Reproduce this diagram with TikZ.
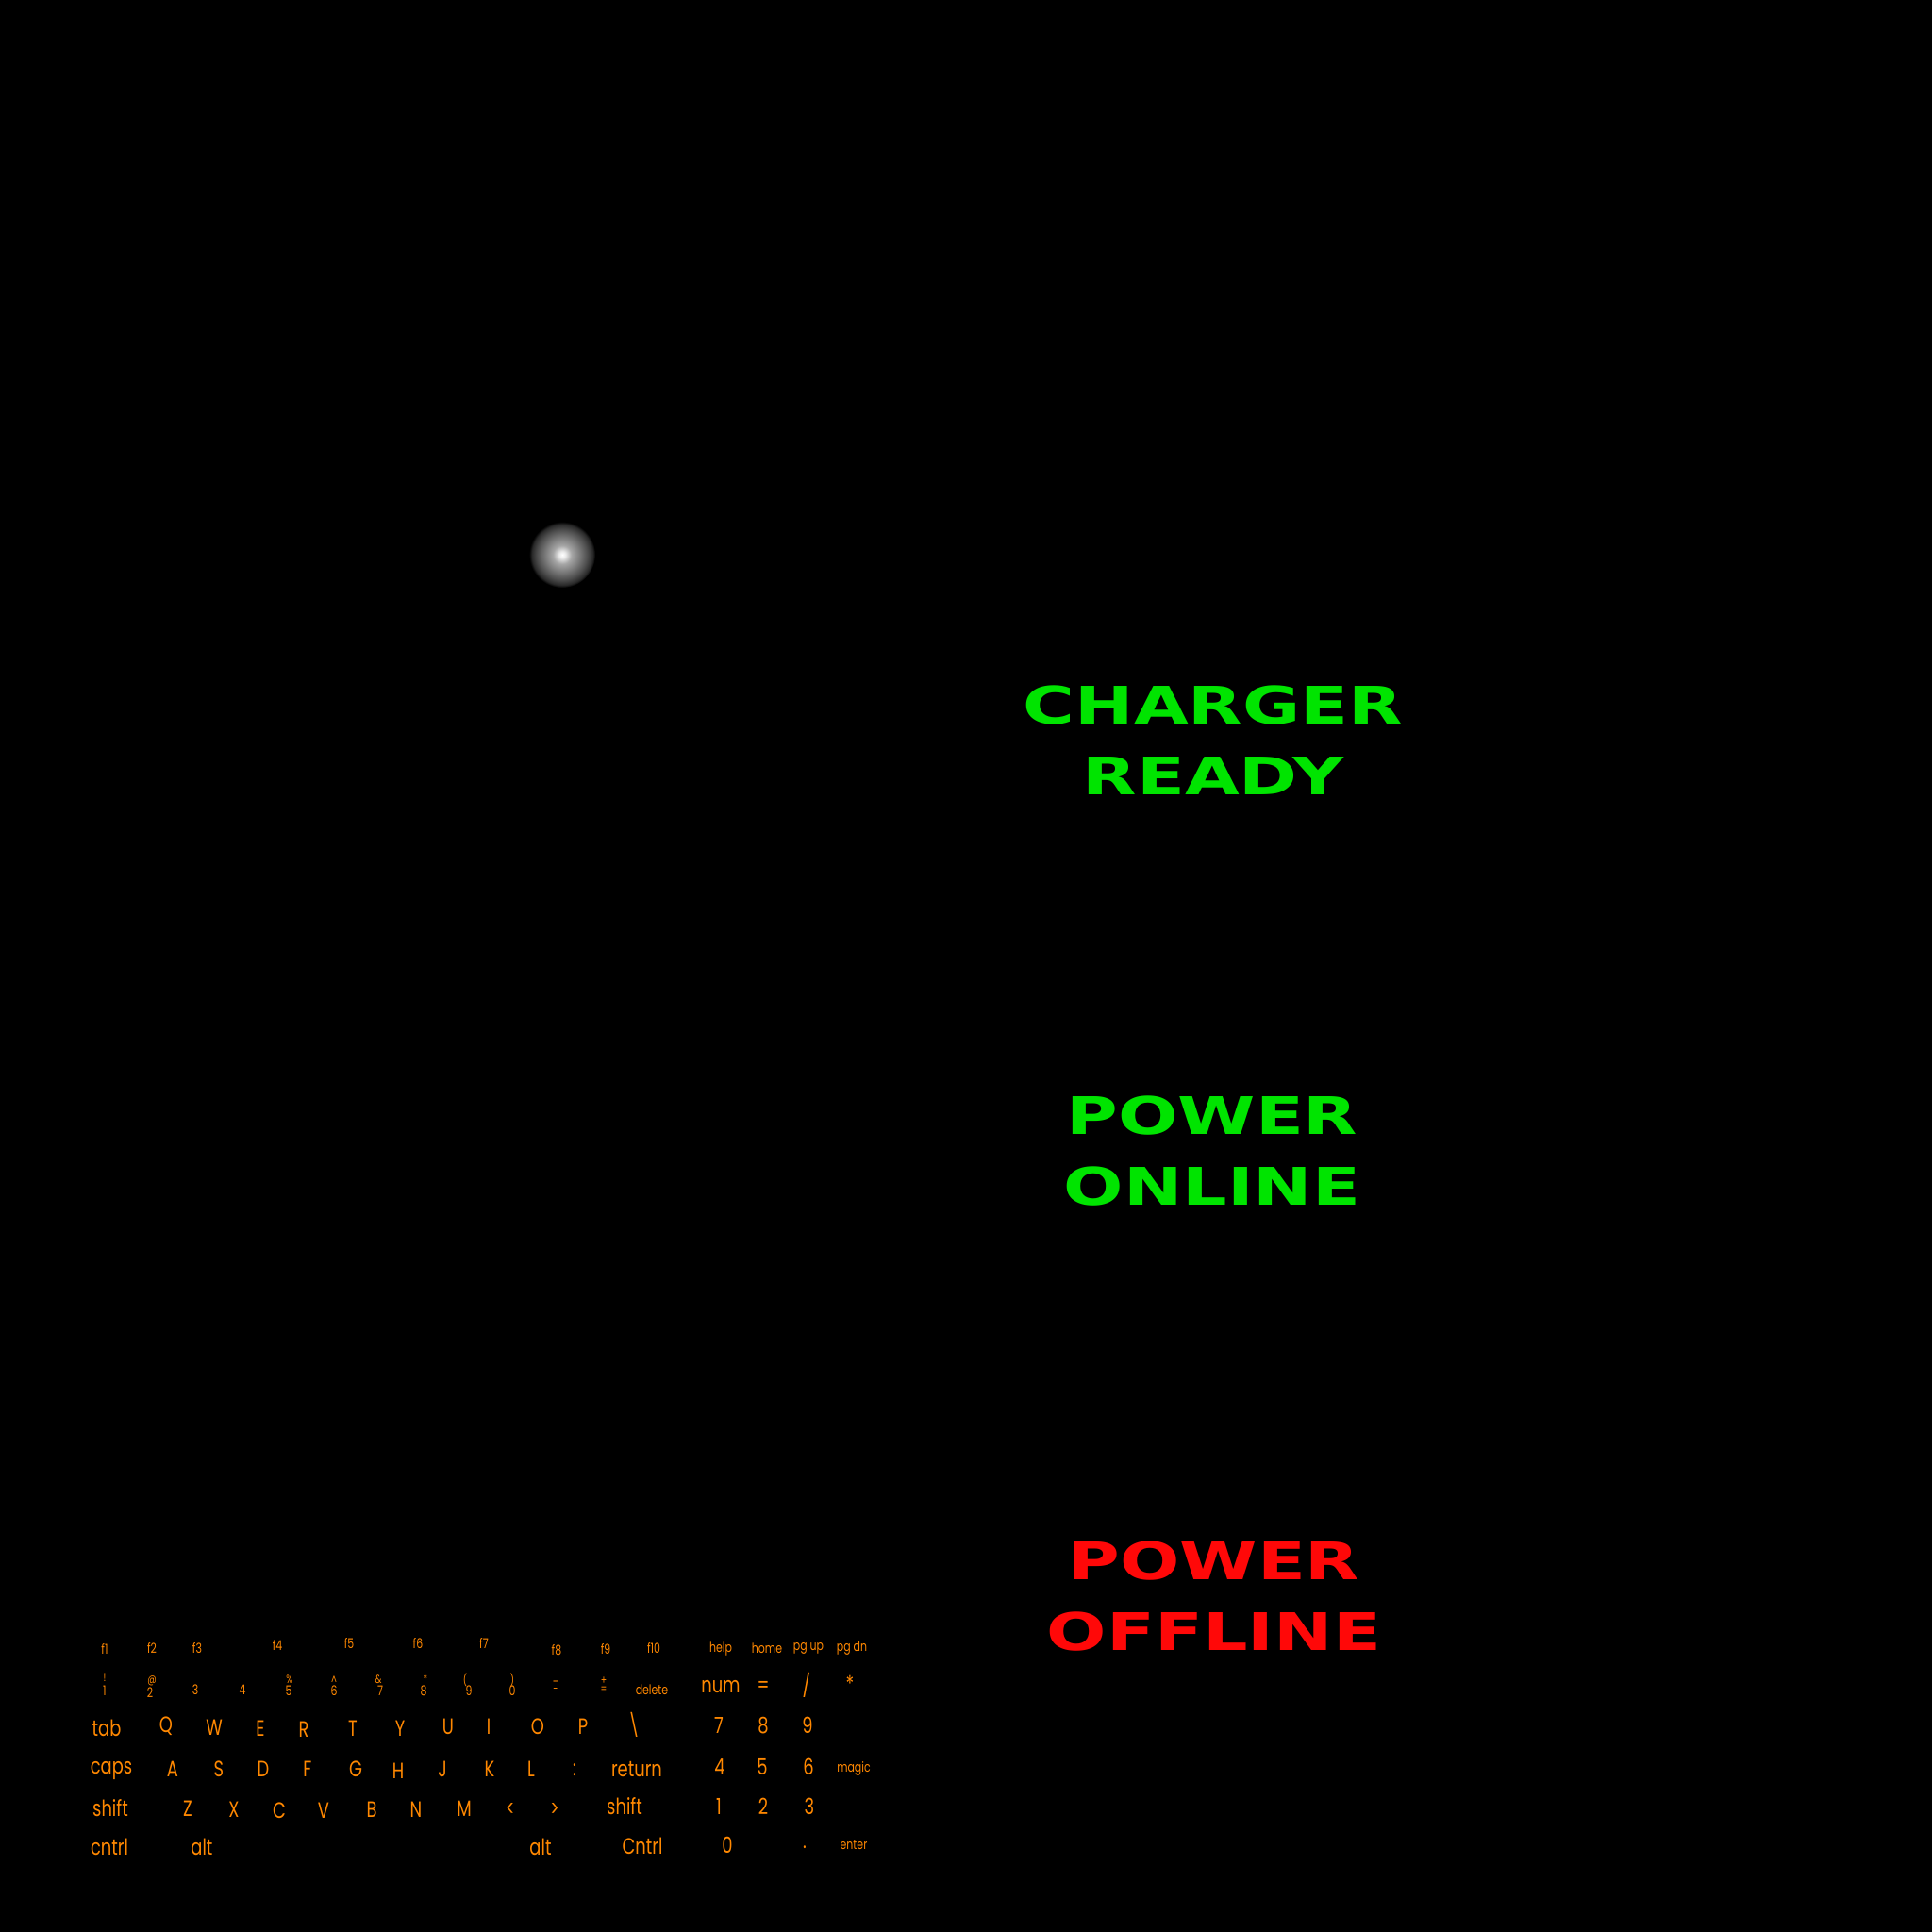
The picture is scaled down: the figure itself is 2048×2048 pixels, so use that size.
\documentclass[tikz,border=0pt]{standalone}
\usepackage{fontspec}
\newfontfamily\hudfont{DejaVu Sans}[FakeStretch=1.36, BoldFeatures={FakeStretch=1.36}]
\newfontfamily\keyfont{Poppins}[FakeStretch=0.76]
\definecolor{hudgreen}{RGB}{0,228,0}
\definecolor{hudred}{RGB}{255,8,8}
\definecolor{keyorange}{RGB}{255,136,0}
\pgfdeclareradialshading{glowdot}{\pgfpoint{0bp}{0bp}}{color(0bp)=(white); color(2.5bp)=(white!92!black); color(7bp)=(black!35); color(13bp)=(black!52); color(19bp)=(black!70); color(23bp)=(black!84); color(25bp)=(black); color(50bp)=(black)}
\begin{document}
\begin{tikzpicture}[
            x=0.01cm, y=-0.01cm,
            hudtext/.style={
                align=center, inner sep=0pt, font=\hudfont\bfseries\fontsize{15.6}{21.3}\selectfont
            },
            keybig/.style={
                text=keyorange, inner sep=0pt, font=\keyfont\fontsize{6.7}{7}\selectfont
            },
            keysmall/.style={
                text=keyorange, inner sep=0pt, font=\keyfont\fontsize{4.1}{5}\selectfont
            },
            keytiny/.style={
                text=keyorange, inner sep=0pt, font=\keyfont\fontsize{3.5}{4}\selectfont
            }
        ]
        \fill[black] (0,0) rectangle (2048,2048);
        \shade[shading=glowdot] (596,588) circle [radius=0.35cm];

        % status
        \node[hudtext, text=hudgreen] (charger) at (1286,785) {CHARGER\\READY};
        \node[hudtext, text=hudgreen] (online) at (1285,1220) {POWER\\ONLINE};
        \node[hudtext, text=hudred] (offline) at (1287,1692) {POWER\\OFFLINE};

        % function row
        \node[keysmall] (f1) at (111,1748) {f1};
        \node[keysmall] (f2) at (161,1747) {f2};
        \node[keysmall] (f3) at (209,1747) {f3};
        \node[keysmall] (f4) at (294,1744) {f4};
        \node[keysmall] (f5) at (370,1742) {f5};
        \node[keysmall] (f6) at (443,1742) {f6};
        \node[keysmall] (f7) at (513,1742) {f7};
        \node[keysmall] (f8) at (590,1749) {f8};
        \node[keysmall] (f9) at (642,1748) {f9};
        \node[keysmall] (f10) at (693,1747) {f10};
        \node[keysmall] (help) at (764,1748) {help};
        \node[keysmall] (home) at (813,1747) {home};
        \node[keysmall] (pgup) at (857,1747) {pg up};
        \node[keysmall] (pgdn) at (903,1747) {pg dn};

        % number row
        \node[keytiny] (s1) at (111,1778) {!};
        \node[keysmall] (n1) at (111,1792) {1};
        \node[keytiny] (s2) at (161,1782) {@};
        \node[keysmall] (n2) at (159,1794) {2};
        \node[keysmall] (n3) at (207,1791) {3};
        \node[keysmall] (n4) at (257,1791) {4};
        \node[keytiny] (s5) at (307,1780) {\%};
        \node[keysmall] (n5) at (306,1792) {5};
        \node[keytiny] (s6) at (354,1781) {\textasciicircum};
        \node[keysmall] (n6) at (354,1792) {6};
        \node[keytiny] (s7) at (401,1780) {\&};
        \node[keysmall] (n7) at (403,1792) {7};
        \node[keytiny] (s8) at (451,1780) {*};
        \node[keysmall] (n8) at (449,1792) {8};
        \node[keytiny] (s9) at (493,1781) {(};
        \node[keysmall] (n9) at (497,1792) {9};
        \node[keytiny] (s0) at (543,1781) {)};
        \node[keysmall] (n0) at (543,1792) {0};
        \node[keytiny] (under) at (589,1782) {\_};
        \node[keytiny] (minus) at (589,1792) {-};
        \node[keytiny] (plus) at (640,1782) {+};
        \node[keytiny] (equals) at (640,1791) {=};
        \node[keysmall] (delete) at (691,1791) {delete};
        \node[keybig] (num) at (764,1788) {num};
        \node[keybig] (padeq) at (809,1788) {=};
        \node[keybig] (slash) at (855,1786) {/};
        \node[keybig] (star) at (901,1785) {*};

        % tab row
        \node[keybig] (tab) at (113,1832) {tab};
        \node[keybig] (Q) at (176,1830) {Q};
        \node[keybig] (W) at (227,1831) {W};
        \node[keybig] (E) at (276,1832) {E};
        \node[keybig] (R) at (322,1833) {R};
        \node[keybig] (T) at (374,1832) {T};
        \node[keybig] (Y) at (424,1832) {Y};
        \node[keybig] (U) at (475,1830) {U};
        \node[keybig] (I) at (518,1830) {I};
        \node[keybig] (O) at (570,1830) {O};
        \node[keybig] (P) at (618,1830) {P};
        \node[keybig] (bslash) at (672,1828) {\textbackslash};
        \node[keybig] (p7) at (762,1829) {7};
        \node[keybig] (p8) at (809,1829) {8};
        \node[keybig] (p9) at (856,1829) {9};

        % caps row
        \node[keybig] (caps) at (118,1877) {caps};
        \node[keybig] (A) at (183,1875) {A};
        \node[keybig] (S) at (232,1875) {S};
        \node[keybig] (D) at (279,1875) {D};
        \node[keybig] (F) at (326,1875) {F};
        \node[keybig] (G) at (377,1875) {G};
        \node[keybig] (H) at (422,1877) {H};
        \node[keybig] (J) at (469,1875) {J};
        \node[keybig] (K) at (519,1875) {K};
        \node[keybig] (L) at (563,1875) {L};
        \node[keybig] (colon) at (609,1876) {:};
        \node[keybig] (return) at (675,1875) {return};
        \node[keybig] (p4) at (763,1873) {4};
        \node[keybig] (p5) at (808,1873) {5};
        \node[keybig] (p6) at (857,1873) {6};
        \node[keysmall] (magic) at (905,1875) {magic};

        % shift row
        \node[keybig] (lshift) at (117,1917) {shift};
        \node[keybig] (Z) at (199,1917) {Z};
        \node[keybig] (X) at (248,1918) {X};
        \node[keybig] (C) at (296,1919) {C};
        \node[keybig] (V) at (343,1919) {V};
        \node[keybig] (B) at (394,1918) {B};
        \node[keybig] (N) at (441,1918) {N};
        \node[keybig] (M) at (492,1917) {M};
        \node[keybig] (less) at (541,1918) {<};
        \node[keybig] (greater) at (588,1918) {>};
        \node[keybig] (rshift) at (662,1915) {shift};
        \node[keybig] (p1) at (762,1915) {1};
        \node[keybig] (p2) at (809,1915) {2};
        \node[keybig] (p3) at (858,1915) {3};

        % bottom row
        \node[keybig] (lcntrl) at (116,1958) {cntrl};
        \node[keybig] (lalt) at (214,1958) {alt};
        \node[keybig] (ralt) at (573,1958) {alt};
        \node[keybig] (rcntrl) at (681,1957) {Cntrl};
        \node[keybig] (p0) at (771,1956) {0};
        \node[keybig] (dot) at (853,1958) {.};
        \node[keysmall] (enter) at (905,1956) {enter};
        \end{tikzpicture}
\end{document}
